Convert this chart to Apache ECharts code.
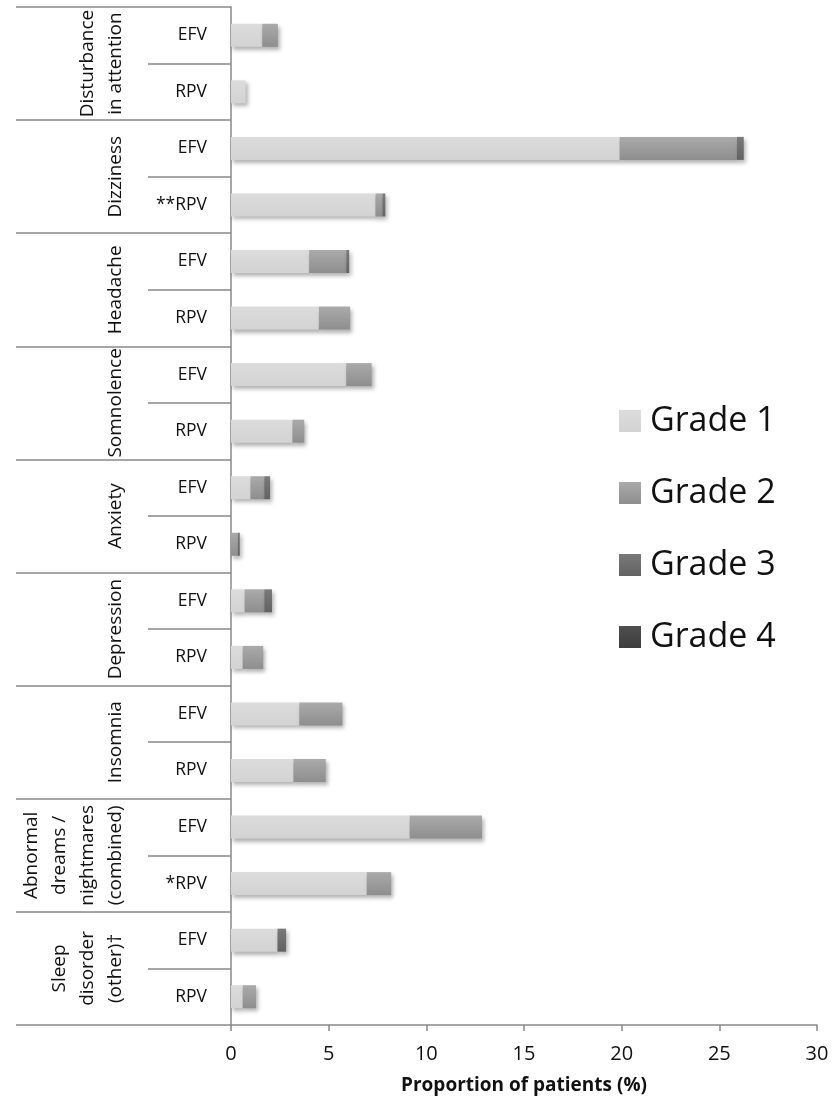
<!DOCTYPE html>
<html>
<head>
<meta charset="utf-8">
<script src="https://cdn.jsdelivr.net/npm/echarts@6/dist/echarts.min.js"></script>
<style>
html,body{margin:0;padding:0;background:#fff;}
#chart{width:832px;height:1100px;}
</style>
</head>
<body>
<div id="chart"></div>
<script>
// Row labels (top to bottom)
const rowLabels = ['EFV','RPV','EFV','**RPV','EFV','RPV','EFV','RPV','EFV','RPV','EFV','RPV','EFV','RPV','EFV','*RPV','EFV','RPV'];
// Group labels (each spans two rows)
const groupLabels = ['Disturbance\nin attention','Dizziness','Headache','Somnolence','Anxiety','Depression','Insomnia','Abnormal\ndreams /\nnightmares\n(combined)','Sleep\ndisorder\n(other)†'];
const seriesNames = ['Grade 1','Grade 2','Grade 3','Grade 4'];
// Values (% of patients) per row
const grade1 = [1.6, 0.75, 19.9, 7.4, 4.0, 4.5, 5.9, 3.15, 1.0, 0, 0.7, 0.6, 3.5, 3.2, 9.15, 6.95, 2.38, 0.6];
const grade2 = [0.8, 0, 6.0, 0.35, 1.9, 1.6, 1.3, 0.6, 0.7, 0.35, 1.0, 1.05, 2.2, 1.65, 3.7, 1.25, 0, 0.68];
const grade3 = [0, 0, 0.35, 0.15, 0.15, 0, 0, 0, 0.3, 0.1, 0.4, 0, 0, 0, 0, 0, 0.44, 0];
const grade4 = [0, 0, 0, 0, 0, 0, 0, 0, 0, 0, 0, 0, 0, 0, 0, 0, 0, 0];
const xTicks = [0, 5, 10, 15, 20, 25, 30];

const FONT = '"Open Sans", sans-serif';
function grad(a, b) {
  return new echarts.graphic.LinearGradient(0, 0, 0, 1, [{offset: 0, color: a}, {offset: 1, color: b}]);
}
const colors = [grad('#dcdcdc', '#d3d3d3'), grad('#aaaaaa', '#8e8e8e'), grad('#7a7a7a', '#626262'), grad('#4f4f4f', '#3c3c3c')];
const values = [grade1, grade2, grade3, grade4];

const chart = echarts.init(document.getElementById('chart'));
chart.setOption({
  backgroundColor: '#ffffff',
  animation: false,
  grid: {left: 231, right: 15, top: 7, bottom: 73, containLabel: false},
  legend: {
    orient: 'vertical',
    left: 614, top: 399,
    itemWidth: 22, itemHeight: 22,
    itemGap: 38,
    icon: 'rect',
    data: seriesNames,
    textStyle: {fontFamily: FONT, fontSize: 34, color: '#111', lineHeight: 32, padding: [0, 0, 0, 4]}
  },
  xAxis: {
    type: 'value', min: xTicks[0], max: xTicks[xTicks.length - 1], interval: xTicks[1] - xTicks[0],
    axisLine: {show: true, lineStyle: {color: '#888', width: 1.5}},
    axisTick: {show: true, length: 6, lineStyle: {color: '#888', width: 1.5}},
    splitLine: {show: false},
    axisLabel: {fontFamily: FONT, fontSize: 20, color: '#111', margin: 19},
    name: 'Proportion of patients (%)',
    nameLocation: 'middle', nameGap: 51,
    nameTextStyle: {fontFamily: FONT, fontSize: 19, fontWeight: 'bold', color: '#111'}
  },
  yAxis: [{
    type: 'category', inverse: true, data: rowLabels,
    position: 'left',
    axisLine: {show: true, lineStyle: {color: '#888', width: 1.5}},
    axisTick: {show: true, length: 83, interval: 0, lineStyle: {color: '#888', width: 1.5}},
    axisLabel: {fontFamily: FONT, fontSize: 17.5, color: '#111', margin: 24, interval: 0}
  }, {
    type: 'category', inverse: true, data: groupLabels,
    position: 'left', offset: 0,
    axisLine: {show: false},
    axisTick: {show: true, length: 215, interval: 0, lineStyle: {color: '#888', width: 1.5}},
    axisLabel: {fontFamily: FONT, fontSize: 19, color: '#111', margin: 101, rotate: 90, lineHeight: 28, interval: 0}
  }],
  series: seriesNames.map((name, i) => ({
    name: name,
    type: 'bar',
    stack: 'total',
    yAxisIndex: 0,
    barWidth: 23,
    data: values[i],
    itemStyle: {
      color: colors[i],
      shadowBlur: 4, shadowOffsetX: 2, shadowOffsetY: 3, shadowColor: 'rgba(0,0,0,0.3)'
    }
  }))
});
</script>
</body>
</html>
